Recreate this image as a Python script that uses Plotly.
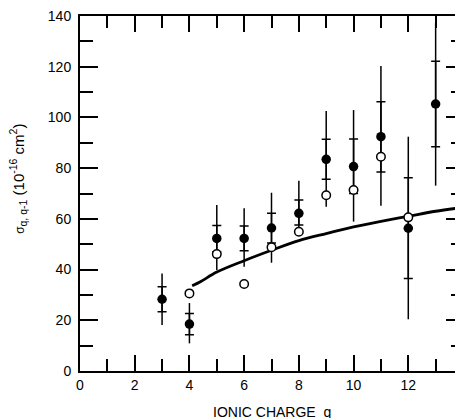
import plotly.graph_objects as go

# Filled circles (sigma_{q,q-1}) with inner (crossbar) and outer error limits
q_filled = [3, 4, 5, 6, 7, 8, 9, 10, 11, 12, 13]
sig_filled = [28.3, 18.5, 52.3, 52.3, 56.4, 62.2, 83.5, 80.6, 92.4, 56.3, 105.3]
inner_hi = [33.2, 22.7, 57.4, 57.2, 62.2, 67.4, 91.4, 91.5, 106.2, 76.2, 122.2]
inner_lo = [23.4, 14.3, 47.0, 47.4, 50.5, 57.6, 75.6, 70.0, 78.5, 36.5, 88.4]
outer_hi = [38.5, 26.8, 65.5, 64.2, 70.3, 75.0, 102.5, 102.9, 120.3, 92.4, 137.3]
outer_lo = [18.1, 10.9, 39.8, 41.1, 42.7, 54.4, 64.8, 58.9, 65.2, 20.4, 73.1]

# Open circles
q_open = [4, 5, 6, 7, 8, 9, 10, 11, 12]
sig_open = [30.6, 46.1, 34.3, 48.8, 54.9, 69.3, 71.4, 84.5, 60.6]

# Theory curve
q_curve = [4.1, 4.4, 5, 6, 7, 8, 9, 10, 11, 12, 13, 14]
sig_curve = [33.6, 35.2, 39.0, 43.5, 47.6, 51.4, 54.2, 56.8, 59.0, 61.0, 63.0, 64.5]

x_ticks = [0, 2, 4, 6, 8, 10, 12, 14]
y_ticks = [0, 20, 40, 60, 80, 100, 120, 140]

fig = go.Figure()

# outer error bars (no caps)
fig.add_trace(go.Scatter(
    x=q_filled, y=sig_filled, mode="markers",
    marker=dict(size=1, color="rgba(0,0,0,0)"),
    error_y=dict(type="data", symmetric=False,
                 array=[h - v for h, v in zip(outer_hi, sig_filled)],
                 arrayminus=[v - l for l, v in zip(outer_lo, sig_filled)],
                 color="black", thickness=1.5, width=0),
    showlegend=False, hoverinfo="skip"))

# inner error bars (with crossbars)
fig.add_trace(go.Scatter(
    x=q_filled, y=sig_filled, mode="markers",
    marker=dict(size=1, color="rgba(0,0,0,0)"),
    error_y=dict(type="data", symmetric=False,
                 array=[h - v for h, v in zip(inner_hi, sig_filled)],
                 arrayminus=[v - l for l, v in zip(inner_lo, sig_filled)],
                 color="black", thickness=1.5, width=4.5),
    showlegend=False, hoverinfo="skip"))

# curve
fig.add_trace(go.Scatter(
    x=q_curve, y=sig_curve, mode="lines", line=dict(color="black", width=2.8, shape="spline"),
    showlegend=False, hoverinfo="skip"))

# open circles
fig.add_trace(go.Scatter(
    x=q_open, y=sig_open, mode="markers",
    marker=dict(symbol="circle", size=8.5, color="white", line=dict(color="black", width=1.5)),
    showlegend=False))

# filled circles
fig.add_trace(go.Scatter(
    x=q_filled, y=sig_filled, mode="markers",
    marker=dict(symbol="circle", size=9.5, color="black", line=dict(color="black", width=0)),
    showlegend=False))

# dummy trace for the right-hand tick axis
fig.add_trace(go.Scatter(x=[None], y=[None], yaxis="y2", mode="markers",
                         showlegend=False, hoverinfo="skip"))

font = dict(family="Liberation Sans, Arial, sans-serif", size=14, color="black")

# figure is offset 8px by the page's body margin, so it is 8px smaller here
fig.update_layout(
    width=455, height=410,
    margin=dict(l=72, r=0, t=8, b=47, autoexpand=False),
    paper_bgcolor="white", plot_bgcolor="white",
    font=font,
    xaxis=dict(range=[0, 14], tickvals=x_ticks, ticktext=[str(v) for v in x_ticks],
               ticks="inside", ticklen=16, tickwidth=1.5, tickcolor="black",
               minor=dict(dtick=1, ticks="inside", ticklen=12, tickwidth=1.5, tickcolor="black"),
               showline=True, linecolor="black", linewidth=2, mirror="ticks",
               showgrid=False, zeroline=False, tickfont=font, automargin=False,
               ticklabeloverflow="allow"),
    yaxis=dict(range=[0, 140], tickvals=y_ticks, ticktext=[str(v) for v in y_ticks],
               ticks="inside", ticklen=18, tickwidth=1.5, tickcolor="black",
               minor=dict(dtick=10, ticks="inside", ticklen=13, tickwidth=1.5, tickcolor="black"),
               showline=True, linecolor="black", linewidth=2, mirror=False,
               showgrid=False, zeroline=False, tickfont=font, ticklabelstandoff=4,
               automargin=False, ticklabeloverflow="allow"),
    yaxis2=dict(range=[0, 140], overlaying="y", side="right", tickvals=y_ticks,
                showticklabels=False, ticks="inside", ticklen=17, tickwidth=1.5, tickcolor="black",
                minor=dict(dtick=10, ticks="inside", ticklen=12, tickwidth=1.5, tickcolor="black"),
                showline=False, showgrid=False, zeroline=False, automargin=False),
    annotations=[
        dict(text="IONIC CHARGE&nbsp; q", xref="paper", yref="paper",
             x=0.5, y=-0.115, xanchor="center", yanchor="middle", showarrow=False,
             font=dict(family="Liberation Sans, Arial, sans-serif", size=14, color="black")),
        dict(text='<span style="font-size:12px">σ</span><sub>q, q-1</sub> (10<sup>-16</sup> cm<sup>2</sup>)',
             xref="paper", yref="paper",
             x=-0.163, y=0.54, xanchor="center", yanchor="middle", textangle=-90, showarrow=False,
             font=dict(family="Liberation Sans, Arial, sans-serif", size=15, color="black")),
    ],
)

fig.write_html("out.html")
